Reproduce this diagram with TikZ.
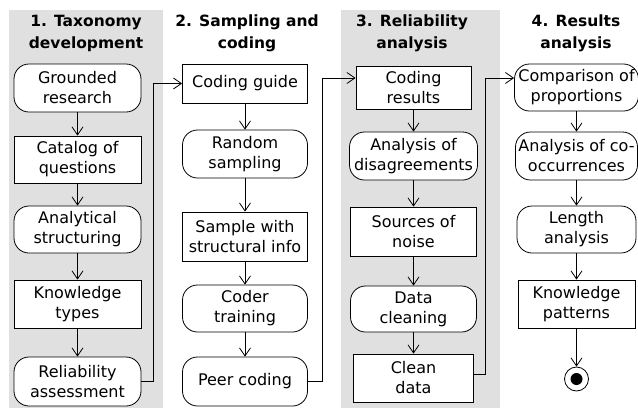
\documentclass[tikz,border=0pt]{standalone}
\usepackage{fontspec}
\setmainfont{DejaVu Sans}
\usetikzlibrary{arrows.meta}
\tikzset{
  box/.style={draw, line width=0.8pt, fill=white, align=center, inner sep=0pt,
    font=\fontsize{16}{20}\selectfont},
  act/.style={box, rounded corners=15pt},
  obj/.style={box, rectangle},
  flow/.style={line width=0.8pt, -{Straight Barb[length=8pt,width=11pt,line width=0.8pt]}},
  phase/.style={align=center, inner sep=0pt, font=\bfseries\fontsize{15.5}{22}\selectfont},
  lane/.style={fill=black!12}
}
\begin{document}
\begin{tikzpicture}[x=1pt, y=-1pt]
  \useasboundingbox (0,0) rectangle (638,408);
  % swim lanes
  \fill[lane] (9,10) rectangle (163,408);
  \fill[lane] (341,10) rectangle (500,408);
  % phase titles
  \node[phase] (h1) at (86,33) {1. Taxonomy\\development};
  \node[phase] (h2) at (247,33) {2. Sampling and\\coding};
  \node[phase] (h3) at (412,33) {3. Reliability\\analysis};
  \node[phase] (h4) at (576,33) {4. Results\\analysis};
  % 1. taxonomy development
  \node[act, minimum width=127pt, minimum height=48pt] (gr) at (77.5,88) {Grounded\\research};
  \node[obj, minimum width=127pt, minimum height=47pt] (cat) at (77.5,159.5) {Catalog of\\questions};
  \node[act, minimum width=127pt, minimum height=47pt] (ana) at (77.5,229.5) {Analytical\\structuring};
  \node[obj, minimum width=127pt, minimum height=48pt] (kno) at (77.5,304) {Knowledge\\types};
  \node[act, minimum width=127pt, minimum height=49pt] (rel) at (77.5,381.5) {Reliability\\assessment};
  % 2. sampling and coding
  \node[obj, minimum width=125pt, minimum height=39pt] (cg) at (245,83.5) {Coding guide};
  \node[act, minimum width=125pt, minimum height=48pt] (rs) at (245,154) {Random\\sampling};
  \node[obj, minimum width=125pt, minimum height=49pt] (swi) at (245,236.5) {Sample with\\structural info};
  \node[act, minimum width=125pt, minimum height=47pt] (ct) at (245,308.5) {Coder\\training};
  \node[act, minimum width=125pt, minimum height=49pt] (pc) at (245,381.5) {Peer coding};
  % 3. reliability analysis
  \node[obj, minimum width=115pt, minimum height=43pt] (cr) at (413.5,87.5) {Coding\\results};
  \node[act, minimum width=128pt, minimum height=48pt] (aod) at (413.5,156) {Analysis of\\disagreements};
  \node[obj, minimum width=126pt, minimum height=49pt] (son) at (413.5,231.5) {Sources of\\noise};
  \node[act, minimum width=126pt, minimum height=46pt] (dc) at (413.5,309) {Data\\cleaning};
  \node[obj, minimum width=120pt, minimum height=48pt] (cd) at (413.5,378) {Clean\\data};
  % 4. results analysis
  \node[act, minimum width=124pt, minimum height=47pt] (cop) at (576.5,87.5) {Comparison of\\proportions};
  \node[act, minimum width=122pt, minimum height=48pt] (aco) at (576.5,156) {Analysis of co-\\occurrences};
  \node[act, minimum width=119pt, minimum height=47pt] (la) at (576.5,229.5) {Length\\analysis};
  \node[obj, minimum width=117pt, minimum height=48pt] (kp) at (576.5,304) {Knowledge\\patterns};
  \node[circle, draw, line width=0.8pt, minimum size=24pt, inner sep=0pt] (fin) at (576.5,379) {};
  \fill (fin.center) circle (6pt);
  % flows
  \draw[flow] (gr) -- (cat);
  \draw[flow] (cat) -- (ana);
  \draw[flow] (ana) -- (kno);
  \draw[flow] (kno) -- (rel);
  \draw[flow] (rel.east) -- ++(12,0) |- (cg.west);
  \draw[flow] (cg) -- (rs);
  \draw[flow] (rs) -- (swi);
  \draw[flow] (swi) -- (ct);
  \draw[flow] (ct) -- (pc);
  \draw[flow] (pc.east) -- ++(14,0) |- ([yshift=9.5pt]cr.west);
  \draw[flow] (cr) -- (aod);
  \draw[flow] (aod) -- (son);
  \draw[flow] (son) -- (dc);
  \draw[flow] (dc) -- (cd);
  \draw[flow] ([yshift=4pt]cd.east) -- ++(11.5,0) |- ([yshift=9.5pt]cop.west);
  \draw[flow] (cop) -- (aco);
  \draw[flow] (aco) -- (la);
  \draw[flow] (la) -- (kp);
  \draw[flow] (kp) -- (fin);
\end{tikzpicture}
\end{document}
